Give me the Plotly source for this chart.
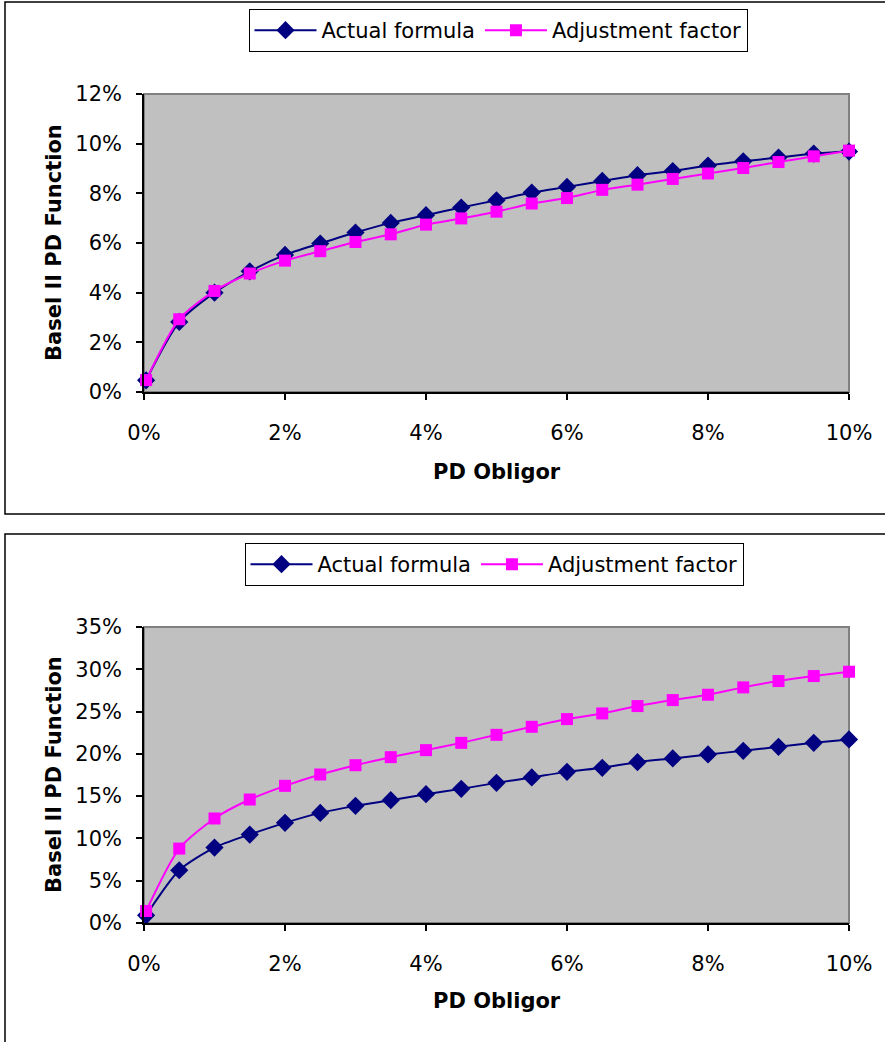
import plotly.graph_objects as go

# PD of the obligor (x axis), shared by both panels
pd_obligor = [0.0003, 0.005, 0.010, 0.015, 0.020, 0.025, 0.030, 0.035, 0.040, 0.045,
              0.050, 0.055, 0.060, 0.065, 0.070, 0.075, 0.080, 0.085, 0.090, 0.095, 0.100]

# Upper panel: Basel II PD function
top_actual = [0.0047, 0.0282, 0.0400, 0.0486, 0.0552, 0.0598, 0.0642, 0.0681, 0.0712, 0.0743,
              0.0772, 0.0803, 0.0826, 0.0850, 0.0873, 0.0890, 0.0912, 0.0929, 0.0944, 0.0960, 0.0968]
top_adjusted = [0.0048, 0.0293, 0.0407, 0.0477, 0.0529, 0.0567, 0.0604, 0.0635, 0.0674, 0.0699,
                0.0726, 0.0759, 0.0781, 0.0814, 0.0835, 0.0858, 0.0880, 0.0902, 0.0926, 0.0949, 0.0972]

# Lower panel: Basel II PD function
bot_actual = [0.0091, 0.0624, 0.0892, 0.1046, 0.1184, 0.1302, 0.1385, 0.1452, 0.1523, 0.1586,
              0.1657, 0.1721, 0.1787, 0.1835, 0.1902, 0.1946, 0.1993, 0.2036, 0.2083, 0.2130, 0.2171]
bot_adjusted = [0.0142, 0.0880, 0.1236, 0.1460, 0.1622, 0.1756, 0.1866, 0.1961, 0.2044, 0.2130,
                0.2225, 0.2320, 0.2411, 0.2478, 0.2565, 0.2636, 0.2699, 0.2786, 0.2861, 0.2920, 0.2971]

series_names = ["Actual formula", "Adjustment factor"]
x_ticks = [0, 0.02, 0.04, 0.06, 0.08, 0.10]
top_y_ticks = [0, 0.02, 0.04, 0.06, 0.08, 0.10, 0.12]
bot_y_ticks = [0, 0.05, 0.10, 0.15, 0.20, 0.25, 0.30, 0.35]

W, H = 885, 1042
FONT = "DejaVu Sans"
NAVY = "#000080"
MAGENTA = "#FF00FF"
PLOT_BG = "#C0C0C0"


def px(x):
    return x / W


def py(y):
    return 1 - y / H


fig = go.Figure()


def add_pair(actual, adjusted, xa, ya, legend):
    fig.add_trace(go.Scatter(
        x=pd_obligor, y=actual, name=series_names[0], mode="lines+markers",
        xaxis=xa, yaxis=ya, legend=legend, cliponaxis=False,
        line=dict(color=NAVY, width=2, shape="spline", smoothing=0.7),
        marker=dict(symbol="diamond", size=14, color=NAVY),
    ))
    fig.add_trace(go.Scatter(
        x=pd_obligor, y=adjusted, name=series_names[1], mode="lines+markers",
        xaxis=xa, yaxis=ya, legend=legend, cliponaxis=False,
        line=dict(color=MAGENTA, width=2, shape="spline", smoothing=0.7),
        marker=dict(symbol="square", size=12, color=MAGENTA),
    ))


add_pair(top_actual, top_adjusted, "x", "y", "legend")
add_pair(bot_actual, bot_adjusted, "x2", "y2", "legend2")

x_dom = [px(144), px(849)]
top_dom = [py(392), py(94)]
bot_dom = [py(923), py(627)]

axis_common = dict(
    automargin=False,
    showgrid=False, zeroline=False, showline=True, linecolor="#000000", linewidth=1.5,
    ticks="outside", ticklen=6, tickwidth=1.5, tickcolor="#000000",
    tickformat=".0%", tickfont=dict(family=FONT, size=21, color="#000000"),
)

legend_common = dict(
    orientation="h", xanchor="center", yanchor="top",
    bgcolor="white", bordercolor="#000000", borderwidth=1,
    font=dict(family=FONT, size=21), itemwidth=62,
)

fig.update_layout(
    template="none",
    width=W, height=H,
    margin=dict(l=0, r=0, t=0, b=0, pad=0, autoexpand=False),
    paper_bgcolor="white", plot_bgcolor=PLOT_BG,
    font=dict(family=FONT, size=21, color="#000000"),
    xaxis=dict(domain=x_dom, anchor="y", range=[0, 0.1], tickvals=x_ticks,
               ticklabelstandoff=15, **axis_common),
    yaxis=dict(domain=top_dom, anchor="x", range=[0, 0.12], tickvals=top_y_ticks,
               ticklabelstandoff=10, **axis_common),
    xaxis2=dict(domain=x_dom, anchor="y2", range=[0, 0.1], tickvals=x_ticks,
                ticklabelstandoff=15, **axis_common),
    yaxis2=dict(domain=bot_dom, anchor="x2", range=[0, 0.35], tickvals=bot_y_ticks,
                ticklabelstandoff=10, **axis_common),
    legend=dict(x=px(498), y=py(9), **legend_common),
    legend2=dict(x=px(494), y=py(543), **legend_common),
    showlegend=True,
)

shapes = []
# Outer chart frames
shapes.append(dict(type="rect", xref="paper", yref="paper", layer="below",
                   x0=px(5), x1=px(895), y0=py(514), y1=py(2),
                   line=dict(color="#000000", width=1.5), fillcolor="rgba(0,0,0,0)"))
shapes.append(dict(type="rect", xref="paper", yref="paper", layer="below",
                   x0=px(5), x1=px(895), y0=py(1060), y1=py(534),
                   line=dict(color="#000000", width=1.5), fillcolor="rgba(0,0,0,0)"))
# Plot area borders (gray top/right edges)
for xd, yd in [("x domain", "y domain"), ("x2 domain", "y2 domain")]:
    shapes.append(dict(type="rect", xref=xd, yref=yd, layer="below",
                       x0=0, x1=1, y0=0, y1=1,
                       line=dict(color="#808080", width=2), fillcolor=PLOT_BG))
fig.update_layout(shapes=shapes)

title_font = dict(family=FONT, size=21, color="#000000")
annotations = [
    dict(text="<b>Basel II PD Function</b>", xref="paper", yref="paper",
         x=px(54), y=py(243), textangle=-90, showarrow=False, font=title_font,
         xanchor="center", yanchor="middle"),
    dict(text="<b>PD Obligor</b>", xref="paper", yref="paper",
         x=px(497), y=py(472), showarrow=False, font=title_font,
         xanchor="center", yanchor="middle"),
    dict(text="<b>Basel II PD Function</b>", xref="paper", yref="paper",
         x=px(54), y=py(775), textangle=-90, showarrow=False, font=title_font,
         xanchor="center", yanchor="middle"),
    dict(text="<b>PD Obligor</b>", xref="paper", yref="paper",
         x=px(497), y=py(1001), showarrow=False, font=title_font,
         xanchor="center", yanchor="middle"),
]
fig.update_layout(annotations=annotations)

fig.write_html("out.html")
